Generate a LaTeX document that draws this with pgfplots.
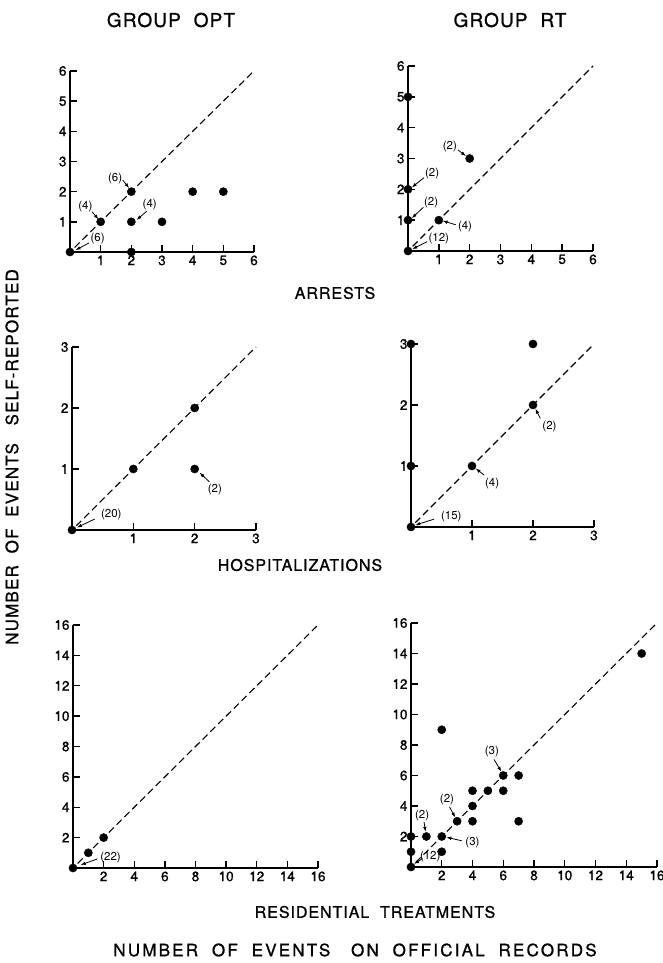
\documentclass[border=0pt]{standalone}
\usepackage{fontspec}
\setmainfont{TeX Gyre Heros}[FakeBold=1]
\newfontfamily\titlefont{TeX Gyre Heros}[LetterSpace=6,FakeBold=1]
\newfontfamily\labfont{TeX Gyre Heros}[LetterSpace=6,FakeBold=1]
\newfontfamily\bigfont{TeX Gyre Heros}[LetterSpace=13,FakeBold=1]
\newfontfamily\ylfont{TeX Gyre Heros}[LetterSpace=7,FakeBold=1]
\newfontfamily\annfont{TeX Gyre Heros}
\usepackage{pgfplots}
\pgfplotsset{compat=1.18}
\usetikzlibrary{arrows.meta}
\newcommand{\ann}{\annfont\fontsize{11.5}{12}\selectfont}
\tikzset{arr/.style={-{Latex[length=5pt,width=3.5pt]}, line width=0.8pt},
  tk/.style={line width=1.4pt, black}}
\pgfplotsset{
  panel/.style={
    scale only axis, axis lines=left, clip=false,
    axis line style={line width=2.8pt,-},
    xmin=0, ymin=0,
    tick align=inside, major tick length=7pt,
    every tick/.style={line width=1.4pt,black},
    ticklabel style={font=\fontsize{13.5}{14}\selectfont},
    /pgf/number format/assume math mode=true,
    anchor=origin,
  },
  dots/.style={only marks, mark=*, mark size=4.1pt, black},
  diag/.style={no marks, black, line width=1.1pt, dash pattern=on 7pt off 4pt},
}
\begin{document}
\begin{tikzpicture}
\path[use as bounding box] (0,0) rectangle (663pt,963pt);
% ---------- Titles ----------
\node[font=\titlefont\fontsize{19}{21}\selectfont] at (171pt,943pt) {GROUP\ \ OPT};
\node[font=\titlefont\fontsize{19}{21}\selectfont] at (510pt,943pt) {GROUP\ \ RT};
\node[font=\labfont\fontsize{16}{18}\selectfont] at (335pt,670pt) {ARRESTS};
\node[font=\labfont\fontsize{16}{18}\selectfont] at (300pt,398pt) {HOSPITALIZATIONS};
\node[font=\labfont\fontsize{16}{18}\selectfont] at (375pt,51pt) {RESIDENTIAL\ \ TREATMENTS};
\node[font=\bigfont\fontsize{17}{19}\selectfont] at (355pt,13pt) {NUMBER\ \ OF\ \ EVENTS\ \ \ ON\ \ OFFICIAL\ \ RECORDS};
\node[font=\ylfont\fontsize{17}{19}\selectfont, rotate=90] at (12pt,506pt) {NUMBER\ \ OF\ \ EVENTS\ \ \ SELF-REPORTED};

% ---------- Panel 1: OPT arrests ----------
\begin{axis}[panel, at={(70pt,711pt)}, width=184pt, height=181pt,
  xmax=6, ymax=6, xtick={1,...,6}, ytick={1,...,6}]
\pgfplotsinvokeforeach{1,...,6}{\draw[tk] (#1,0) -- ++(0,7pt); \draw[tk] (0,#1) -- ++(7pt,0);}
\addplot[diag] coordinates {(0.15,0.15) (6,6)};
\addplot[dots] coordinates {(0,0) (1,1) (2,2) (2,1) (3,1) (4,2) (5,2) (2,0)};
\node[font=\ann] at (0.9,0.45) {(6)};
\draw[arr] (0.62,0.3) -- (0.18,0.06);
\node[font=\ann] at (0.5,1.5) {(4)};
\draw[arr] (0.72,1.33) -- (0.93,1.08);
\node[font=\ann] at (1.47,2.45) {(6)};
\draw[arr] (1.72,2.38) -- (1.93,2.12);
\node[font=\ann] at (2.6,1.56) {(4)};
\draw[arr] (2.5,1.35) -- (2.17,1.06);
\end{axis}

% ---------- Panel 2: RT arrests ----------
\begin{axis}[panel, at={(408pt,712pt)}, width=185pt, height=185pt,
  xmax=6, ymax=6, xtick={1,...,6}, ytick={1,...,6}]
\pgfplotsinvokeforeach{1,...,6}{\draw[tk] (#1,0) -- ++(0,7pt); \draw[tk] (0,#1) -- ++(7pt,0);}
\addplot[diag] coordinates {(0.15,0.15) (6,6)};
\addplot[dots] coordinates {(0,5) (0,2) (0,1) (0,0) (1,1) (2,3)};
\node[font=\ann] at (1.36,3.4) {(2)};
\draw[arr] (1.62,3.28) -- (1.88,3.08);
\node[font=\ann] at (0.78,2.5) {(2)};
\draw[arr] (0.52,2.38) -- (0.12,2.06);
\node[font=\ann] at (0.75,1.56) {(2)};
\draw[arr] (0.5,1.42) -- (0.12,1.06);
\node[font=\ann] at (1.85,0.8) {(4)};
\draw[arr] (1.55,0.85) -- (1.12,0.98);
\node[font=\ann] at (1.0,0.42) {(12)};
\draw[arr] (0.62,0.3) -- (0.14,0.06);
\end{axis}

% ---------- Panel 3: OPT hospitalizations ----------
\begin{axis}[panel, at={(72pt,433pt)}, width=184pt, height=183pt,
  xmax=3, ymax=3, xtick={1,2,3}, ytick={1,2,3}]
\pgfplotsinvokeforeach{1,2,3}{\draw[tk] (#1,0) -- ++(0,7pt); \draw[tk] (0,#1) -- ++(7pt,0);}
\addplot[diag] coordinates {(0.07,0.07) (3,3)};
\addplot[dots] coordinates {(0,0) (1,1) (2,2) (2,1)};
\node[font=\ann] at (0.64,0.25) {(20)};
\draw[arr] (0.37,0.18) -- (0.08,0.04);
\node[font=\ann] at (2.33,0.66) {(2)};
\draw[arr] (2.24,0.79) -- (2.08,0.94);
\end{axis}

% ---------- Panel 4: RT hospitalizations ----------
\begin{axis}[panel, at={(411pt,436pt)}, width=183pt, height=183pt,
  xmax=3, ymax=3, xtick={1,2,3}, ytick={1,2,3}]
\pgfplotsinvokeforeach{1,2,3}{\draw[tk] (#1,0) -- ++(0,7pt); \draw[tk] (0,#1) -- ++(7pt,0);}
\addplot[diag] coordinates {(0.07,0.07) (3,3)};
\addplot[dots] coordinates {(0,3) (0,1) (0,0) (1,1) (2,2) (2,3)};
\node[font=\ann] at (0.66,0.17) {(15)};
\draw[arr] (0.38,0.13) -- (0.07,0.03);
\node[font=\ann] at (1.33,0.72) {(4)};
\draw[arr] (1.2,0.85) -- (1.06,0.96);
\node[font=\ann] at (2.27,1.64) {(2)};
\draw[arr] (2.12,1.78) -- (2.04,1.94);
\end{axis}

% ---------- Panel 5: OPT residential ----------
\begin{axis}[panel, at={(73pt,95pt)}, width=245pt, height=243pt,
  xmax=16, ymax=16, xtick={2,4,...,16}, ytick={2,4,...,16}]
\pgfplotsinvokeforeach{2,4,...,16}{\draw[tk] (#1,0) -- ++(0,7pt); \draw[tk] (0,#1) -- ++(7pt,0);}
\addplot[diag] coordinates {(0.3,0.3) (16,16)};
\addplot[dots] coordinates {(0,0) (1,1) (2,2)};
\node[font=\ann] at (2.45,0.7) {(22)};
\draw[arr] (1.6,0.6) -- (0.5,0.2);
\end{axis}

% ---------- Panel 6: RT residential ----------
\begin{axis}[panel, at={(411pt,96pt)}, width=246pt, height=244pt,
  xmax=16, ymax=16, xtick={2,4,...,16}, ytick={2,4,...,16}]
\pgfplotsinvokeforeach{2,4,...,16}{\draw[tk] (#1,0) -- ++(0,7pt); \draw[tk] (0,#1) -- ++(7pt,0);}
\addplot[diag] coordinates {(0.3,0.3) (16,16)};
\addplot[dots] coordinates {(0,2) (0,1) (0,0) (1,2) (2,2) (2,1) (2,9) (3,3)
  (4,5) (4,4) (4,3) (5,5) (6,6) (6,5) (7,6) (7,3) (15,14)};
\node[font=\ann] at (5.26,7.6) {(3)};
\draw[arr] (5.4,7.05) -- (5.88,6.25);
\node[font=\ann] at (2.34,4.4) {(2)};
\draw[arr] (2.5,3.95) -- (2.88,3.25);
\node[font=\ann] at (0.72,3.35) {(2)};
\draw[arr] (0.85,2.95) -- (0.95,2.3);
\node[font=\ann] at (4.0,1.62) {(3)};
\draw[arr] (3.3,1.72) -- (2.3,1.95);
\node[font=\ann] at (1.25,0.7) {(12)};
\draw[arr] (0.75,0.55) -- (0.2,0.2);
\end{axis}
\end{tikzpicture}
\end{document}
